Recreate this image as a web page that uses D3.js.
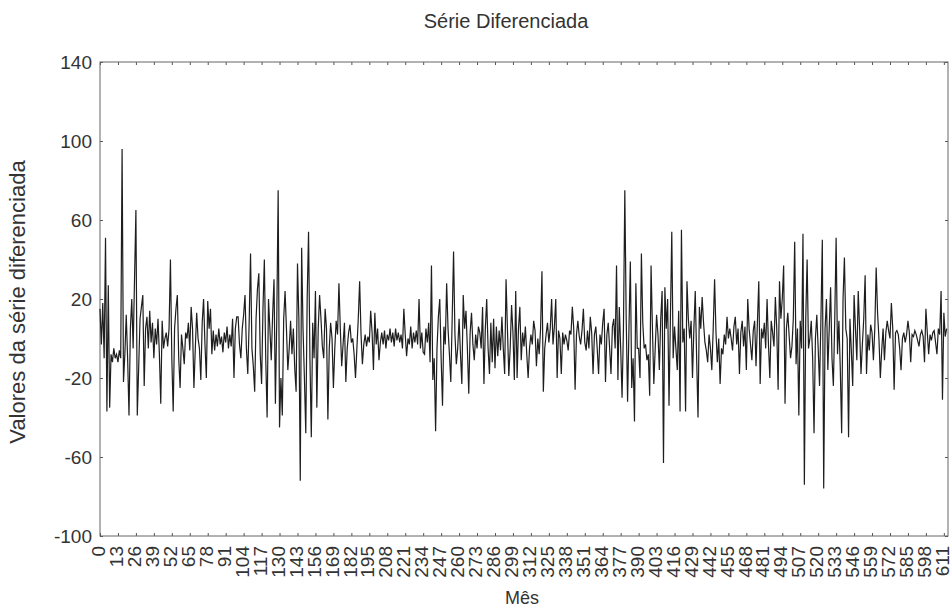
<!DOCTYPE html>
<html>
<head>
<meta charset="utf-8">
<script src="https://d3js.org/d3.v7.min.js"></script>
<style>
  body { margin: 0; background: #fff; }
  text { font-family: Arial, "Liberation Sans", sans-serif; fill: #333; }
</style>
</head>
<body>
<div class="serie-diferenciada"></div>
<script>

var titulo = "Série Diferenciada";
var rotuloX = "Mês";
var rotuloY = "Valores da série diferenciada";

var ticksY = [-100, -60, -20, 20, 60, 100, 140];

var ticksMes = [0, 13, 26, 39, 52, 65, 78, 91, 104, 117, 130, 143, 156, 169, 182, 195,
  208, 221, 234, 247, 260, 273, 286, 299, 312, 325, 338, 351, 364, 377, 390, 403,
  416, 429, 442, 455, 468, 481, 494, 507, 520, 533, 546, 559, 572, 585, 598, 611];

// valores, um por mes (0..613)
var serie = [
  15, -3, 18, -10, 51, -37, 27, -35, -8, -12,
  -5, -10, -8, -12, -6, -10, 96, -22, -8, 12,
  -10, -39, 5, 20, -5, 30, 65, -39, -15, 10,
  16, 22, -24, 5, 11, -5, 14, -2, 8, -10,
  5, -3, 10, -8, -33, 9, -5, 0, 3, -4,
  5, 40, -10, -37, 5, 15, 22, -10, -25, 2,
  -5, -13, 3, 0, 8, -6, 16, 5, -25, -5,
  13, 0, -5, -21, 8, 20, -3, -20, 19, 5,
  15, -8, 4, -6, 2, -4, 5, -3, 1, -7,
  3, -2, 6, -5, 2, -4, 10, -20, 5, 11,
  11, -3, -10, 5, 12, 22, -5, -18, 8, 43,
  -5, -14, -27, 10, 25, 33, -8, -23, 15, 40,
  -10, -40, 20, 5, -11, 12, 30, -33, 10, 75,
  -45, -20, -39, 10, 24, 5, -16, -5, 9, -8,
  5, -15, -27, 38, 10, -72, 46, 5, -20, -48,
  20, 54, -10, -50, 8, -10, 24, -35, 5, 22,
  10, -4, -10, 15, 5, -41, -5, 8, 0, -25,
  -5, 9, 2, 28, 5, -14, -3, 8, -22, -5,
  3, 7, -2, 0, -8, -20, -5, 10, 29, 2,
  -13, -3, 2, -4, 1, -2, 14, 3, -16, 13,
  -3, 5, -11, -2, 3, -3, 4, -5, 2, -1,
  5, -2, 3, -4, 5, -1, 3, -2, 2, -5,
  15, 2, -9, 0, -3, 6, -5, 3, -2, 4,
  -3, 20, -5, 3, -7, -8, 5, -2, 8, -12,
  37, -21, -10, -47, -5, 11, 20, -10, -34, 6,
  -3, 28, 5, -8, -22, 10, 44, 2, -13, -5,
  10, -8, -23, 22, 5, 14, -5, -28, 3, 13,
  -3, -11, 2, -5, 6, 3, -5, 16, -23, 5,
  20, -5, -18, 8, -12, 10, -15, 6, -9, 4,
  -6, 11, -5, -18, 30, 5, -19, -5, 17, 3,
  -21, 24, -20, 5, 16, -11, 3, -4, 6, -8,
  -20, -5, 2, -3, 9, 4, -14, 0, -8, 5,
  34, -27, -5, 2, 8, -2, 5, 20, -3, 6,
  20, -20, 4, 0, -18, 3, -3, 2, -1, -6,
  4, 2, 16, 5, -26, 2, 9, 1, -3, 4,
  15, -2, -6, 4, -5, 11, 3, -18, 2, 6,
  -5, -18, 2, -3, 8, 15, -22, 2, 8, -5,
  -18, 6, 10, -5, 37, -21, 16, -5, -30, 5,
  75, 10, -32, 5, 39, -25, -10, -42, 28, -5,
  -5, -20, 43, 8, -5, -3, -11, -8, -29, 37,
  5, -23, -5, 12, 2, -16, 10, 24, -63, 26,
  5, 20, -34, 10, 54, -10, 6, -5, -16, 14,
  -37, 55, -2, 5, -37, 29, 10, 0, 9, -20,
  5, 24, -10, -40, 16, 5, 21, 8, -2, -6,
  -12, 2, -5, -16, 5, 30, 3, -12, 0, -23,
  -5, -8, 2, -3, 11, 0, 5, 0, -6, 6,
  11, -3, 5, -18, 3, 9, -4, 6, -16, 20,
  5, -3, -11, 4, 9, -14, 8, 29, -23, 5,
  0, 8, -5, 20, -3, -20, 9, 3, -4, 21,
  5, -26, 29, 10, 20, 37, -33, 5, 13, 1,
  -10, -4, 10, 49, -13, 5, -39, 9, -5, 53,
  -74, 10, 40, -5, 0, 9, -10, -48, 0, 12,
  -5, -24, 10, 50, -76, 5, 20, -16, 5, 26,
  -10, -24, 10, 51, -8, 9, -15, -48, 20, 41,
  5, 0, -50, 10, -6, -24, 22, 5, -11, 24,
  5, -18, -3, 10, 32, -18, 2, -6, 7, 3,
  -11, 5, 36, 13, 0, -20, -6, 5, -11, 3,
  9, 4, 0, 18, 5, -26, 3, 4, 2, -5,
  -16, 0, 3, -2, 2, 9, 3, -12, 2, 1,
  4, 2, -1, -4, 2, 4, 1, -12, 15, 3,
  -8, 2, -1, 3, 4, -2, -8, 5, 2, 24,
  -31, 13, 1, 5
];

var margin = {top: 62, right: 4, bottom: 72, left: 100},
  width = 952 - margin.left - margin.right,
  height = 608 - margin.top - margin.bottom;

var svg = d3.select(".serie-diferenciada").append("svg")
  .attr("width", width + margin.left + margin.right)
  .attr("height", height + margin.top + margin.bottom)

var g = svg.append("g")
  .attr("transform", "translate(" + margin.left + "," + margin.top + ")")

var x = d3.scaleLinear()
  .domain([0, 614])
  .range([0, width])

var y = d3.scaleLinear()
  .domain([-100, 140])
  .range([height, 0])

// rotulos com hifen simples, como no original
var formato = function(d) { return String(d); }

// eixos (ticks para dentro, como no original)
g.append("g")
  .attr("class", "eixo-y")
  .call(d3.axisLeft(y).tickValues(ticksY).tickSize(-3).tickPadding(8).tickFormat(formato))

g.append("g")
  .attr("transform", "translate(" + width + ",0)")
  .call(d3.axisRight(y).tickValues(ticksY).tickSize(-3).tickFormat(""))

g.append("g")
  .call(d3.axisTop(x).tickValues(ticksMes).tickSize(-3).tickFormat(""))

var eixoX = g.append("g")
  .attr("class", "eixo-x")
  .attr("transform", "translate(0," + height + ")")
  .call(d3.axisBottom(x).tickValues(ticksMes).tickSize(-3).tickFormat(formato))

eixoX.selectAll("text")
  .attr("transform", "rotate(-90)")
  .attr("text-anchor", "end")
  .attr("x", -10)
  .attr("y", -2)
  .attr("dy", "0.35em")

g.selectAll(".domain").remove()
g.selectAll(".tick line").attr("stroke", "#555")
g.selectAll(".tick text").style("font-size", "19px").style("fill", "#333")

g.append("rect")
  .attr("width", width)
  .attr("height", height)
  .attr("fill", "none")
  .attr("stroke", "#666")
  .attr("stroke-width", 1)

var linha = d3.line()
  .x(function(d, i) { return x(i); })
  .y(function(d) { return y(d); })

g.append("path")
  .datum(serie)
  .attr("fill", "none")
  .attr("stroke", "#1e1e1e")
  .attr("stroke-width", 1.2)
  .attr("d", linha)

// textos
svg.append("text")
  .attr("x", 506)
  .attr("y", 28)
  .attr("text-anchor", "middle")
  .style("font-size", "20px")
  .text(titulo)

svg.append("text")
  .attr("x", 522)
  .attr("y", 604)
  .attr("text-anchor", "middle")
  .style("font-size", "18px")
  .text(rotuloX)

svg.append("text")
  .attr("transform", "translate(25,302) rotate(-90)")
  .attr("text-anchor", "middle")
  .style("font-size", "22px")
  .text(rotuloY)

</script>
</body>
</html>
